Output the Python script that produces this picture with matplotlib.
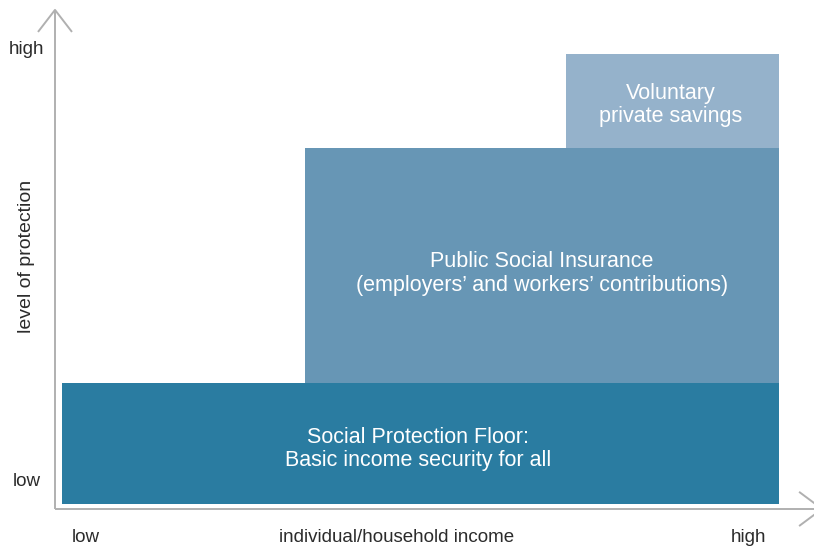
#!/usr/bin/env python3
"""Staircase of social protection: floor, social insurance, private savings."""

import matplotlib
matplotlib.use("Agg")
import matplotlib.pyplot as plt

# ── data ─────────────────────────────────────────────────────────────────────
# income axis 0..10 (low..high), protection axis 0..10 (low..high)
tier_labels = [
    "Social Protection Floor:\nBasic income security for all",
    "Public Social Insurance\n(employers\u2019 and workers\u2019 contributions)",
    "Voluntary\nprivate savings",
]
tier_income_start = [0.0, 3.39, 7.03]
tier_income_end   = [10.0, 10.0, 10.0]
tier_prot_bottom  = [0.0, 2.69, 7.91]
tier_prot_top     = [2.69, 7.91, 10.0]
tier_colors       = ["#2a7ca1", "#6796b5", "#95b2cb"]

x_tick_labels = ["low", "individual/household income", "high"]
x_tick_pos    = [0.33, 4.66, 9.58]
y_tick_labels = ["low", "high"]
y_tick_pos    = [0.51, 10.09]
y_title       = "level of protection"

# ── figure ───────────────────────────────────────────────────────────────────
fig = plt.figure(figsize=(8.14, 5.48), dpi=100)
ax = fig.add_axes([0, 0, 1, 1])
ax.set_xlim(-0.865, 10.488)
ax.set_ylim(-0.978, 11.2)
ax.axis("off")

sans = ["Liberation Sans", "DejaVu Sans"]
label_dy = [-0.12, -0.18, -0.09]   # nudge of label block below box centre
label_dx = [-0.03, 0.0, -0.03]

for lab, x0, x1, y0, y1, col, dx, dy in zip(
        tier_labels, tier_income_start, tier_income_end,
        tier_prot_bottom, tier_prot_top, tier_colors, label_dx, label_dy):
    ax.add_patch(plt.Rectangle((x0, y0), x1 - x0, y1 - y0, facecolor=col,
                               edgecolor="none", zorder=2))
    ax.text((x0 + x1) / 2 + dx, (y0 + y1) / 2 + dy, lab, color="white",
            ha="center", va="center", fontsize=15.5, family=sans,
            linespacing=1.15, zorder=3)

# ── axes with open arrowheads ────────────────────────────────────────────────
axis_col = "#b0b0b0"
x_ax, y_ax = -0.098, -0.11
x_tip, y_tip = 10.6, 10.98
kw = dict(color=axis_col, lw=1.4, solid_capstyle="butt", clip_on=False, zorder=1)
ax.plot([x_ax, x_ax], [y_ax, y_tip], **kw)
ax.plot([x_ax, x_tip], [y_ax, y_ax], **kw)
# chevrons
ax.plot([x_ax - 0.237, x_ax, x_ax + 0.237], [y_tip - 0.49, y_tip, y_tip - 0.49], **kw)
ax.plot([x_tip - 0.32, x_tip, x_tip - 0.32], [y_ax + 0.38, y_ax, y_ax - 0.38], **kw)

# ── tick labels ──────────────────────────────────────────────────────────────
txt_col = "#2b2b2b"
for lab, xp in zip(x_tick_labels, x_tick_pos):
    ax.text(xp, -0.75, lab, ha="center", va="center", fontsize=13.5,
            color=txt_col, family=sans)
for lab, yp in zip(y_tick_labels, y_tick_pos):
    ax.text(-0.49, yp, lab, ha="center", va="center", fontsize=13.5,
            color=txt_col, family=sans)
ax.text(-0.49, 5.51, y_title, rotation=90, ha="center", va="center",
        fontsize=14, color=txt_col, family=sans)

fig.savefig("out.png", dpi=100)
